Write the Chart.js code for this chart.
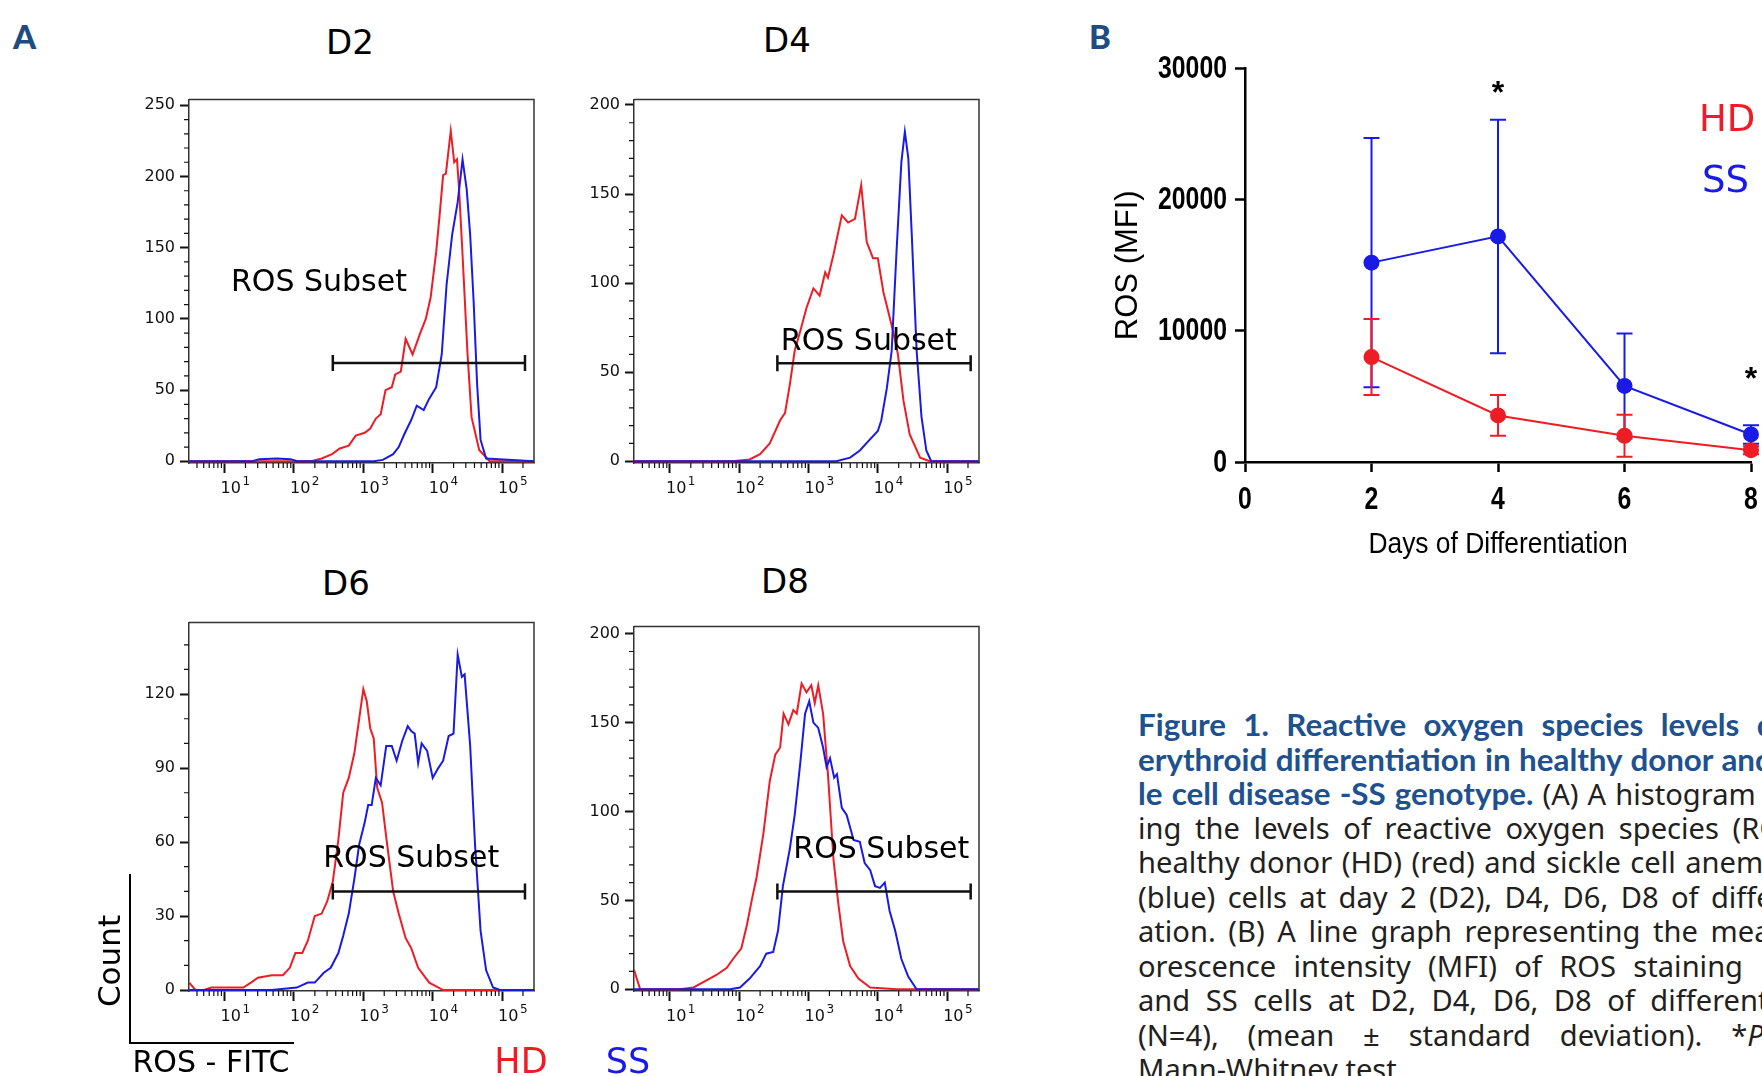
<!DOCTYPE html>
<html lang="en">
<head>
<meta charset="UTF-8">
<title>ROS levels during erythroid differentiation</title>
<script src="https://cdn.jsdelivr.net/npm/chart.js"></script>
<style>
  html, body { margin: 0; padding: 0; background: #fff; }
  body { width: 1762px; height: 1076px; overflow: hidden; position: relative; }
  canvas { position: absolute; }
  .c { position: absolute; transform: translate(-50%, -50%); line-height: 1; white-space: nowrap; }
  .title { font-family: 'DejaVu Sans'; font-size: 34px; color: #000; }
  .letter { position: absolute; font-family: Lato, 'Liberation Sans'; font-weight: 900; font-size: 33px; color: #1d4c82; line-height: 1; }
  .lg { position: absolute; font-family: 'DejaVu Sans'; line-height: 1; white-space: nowrap; }
  .red { color: #ee1c24; }
  .blue { color: #1a1ae6; }
  .axl { position: absolute; background: #000; }
  #caption { position: absolute; left: 1138px; top: 707px; width: 700px; font-family: 'Noto Sans'; font-size: 24px; color: #231f20; }
  #caption .ln { height: 34.5px; line-height: 34.5px; text-align: justify; text-align-last: justify; white-space: nowrap; }
  #caption .ln.last { text-align-last: left; }
  #caption b { font-family: Lato; font-weight: 700; color: #1e5190; }
</style>
</head>
<body>
  <div class="letter" style="left:13px; top:20px;">A</div>
  <div class="letter" style="left:1089px; top:20px;">B</div>

  <div class="c title" style="left:350px; top:42px;">D2</div>
  <div class="c title" style="left:787px; top:40px;">D4</div>
  <div class="c title" style="left:346px; top:583px;">D6</div>
  <div class="c title" style="left:785px; top:581px;">D8</div>

  <canvas id="d2" width="419" height="418" style="left:129px; top:85px;"></canvas>
  <canvas id="d4" width="419" height="418" style="left:574px; top:85px;"></canvas>
  <canvas id="d6" width="419" height="423" style="left:129px; top:608px;"></canvas>
  <canvas id="d8" width="419" height="419" style="left:574px; top:612px;"></canvas>
  <canvas id="rosLine" width="672" height="522" style="left:1090px; top:40px;"></canvas>

  <!-- small axis key under the histograms -->
  <div class="axl" style="left:129px; top:874px; width:2px; height:170px;"></div>
  <div class="axl" style="left:129px; top:1042px; width:165px; height:2px;"></div>
  <div class="c" style="left:109px; top:961px; font-family:'DejaVu Sans'; font-size:31px; transform:translate(-50%,-50%) rotate(-90deg);">Count</div>
  <div class="c" style="left:211px; top:1062px; font-family:'DejaVu Sans'; font-size:30px;">ROS - FITC</div>
  <div class="c red" style="left:521px; top:1061px; font-family:'DejaVu Sans'; font-size:35px;">HD</div>
  <div class="c blue" style="left:628px; top:1061px; font-family:'DejaVu Sans'; font-size:35px;">SS</div>

  <div class="lg red" style="left:1699px; top:100px; font-size:37px;">HD</div>
  <div class="lg blue" style="left:1702px; top:161px; font-size:37px;">SS</div>

  <div id="caption">
    <div class="ln"><b>Figure 1. Reactive oxygen species levels during</b></div>
    <div class="ln"><b>erythroid differentiation in healthy donor and sick-</b></div>
    <div class="ln"><b>le cell disease -SS genotype.</b> (A) A histogram show-</div>
    <div class="ln">ing the levels of reactive oxygen species (ROS) in</div>
    <div class="ln">healthy donor (HD) (red) and sickle cell anemia (SS)</div>
    <div class="ln">(blue) cells at day 2 (D2), D4, D6, D8 of differenti-</div>
    <div class="ln">ation. (B) A line graph representing the mean flu-</div>
    <div class="ln">orescence intensity (MFI) of ROS staining in HD</div>
    <div class="ln">and SS cells at D2, D4, D6, D8 of differentiation</div>
    <div class="ln">(N=4), (mean ± standard deviation). *<i>P</i>&lt;0.05,</div>
    <div class="ln last">Mann-Whitney test.</div>
  </div>

<script>
// ---- histogram data: x = log10(ROS-FITC intensity), y = cell count ----
const d2HdX = [0.49, 2.25, 2.40, 2.55, 2.66, 2.79, 2.89, 3.02, 3.10, 3.18, 3.25, 3.32, 3.41, 3.46, 3.54, 3.61, 3.71, 3.82, 3.90, 3.97, 4.05, 4.10, 4.15, 4.19, 4.26, 4.31, 4.35, 4.38, 4.43, 4.50, 4.56, 4.67, 4.82, 5.46];
const d2HdY = [0, 0, 2, 5, 9, 11, 18, 20, 23, 30, 33, 50, 52, 61, 63, 86, 75, 90, 100, 115, 147, 173, 201, 202, 232, 210, 212, 191, 145, 77, 31, 8, 0, 0];
const d2SsX = [0.49, 1.40, 1.50, 1.75, 1.95, 2.05, 3.15, 3.28, 3.43, 3.51, 3.59, 3.69, 3.77, 3.87, 3.95, 4.05, 4.13, 4.20, 4.28, 4.36, 4.43, 4.49, 4.54, 4.59, 4.64, 4.69, 4.77, 5.46];
const d2SsY = [0, 0, 1.5, 2, 1.5, 0, 0, 1, 5, 10, 19, 29, 39, 36, 44, 52, 75, 124, 159, 182, 212, 191, 159, 112, 54, 15, 2, 0];

const d4HdX = [0.48, 1.90, 2.15, 2.30, 2.44, 2.59, 2.66, 2.73, 2.80, 2.88, 2.97, 3.07, 3.16, 3.24, 3.28, 3.36, 3.48, 3.57, 3.67, 3.76, 3.84, 3.93, 4.00, 4.08, 4.15, 4.22, 4.29, 4.37, 4.46, 4.61, 4.75, 5.46];
const d4HdY = [0, 0, 1, 4, 10, 23, 27, 43, 62, 73, 86, 97, 93, 106, 103, 116, 138, 134, 136, 155, 123, 114, 114, 95, 84, 73, 60, 34, 15, 2, 0, 0];
const d4SsX = [0.48, 3.40, 3.60, 3.74, 3.88, 4.00, 4.05, 4.13, 4.20, 4.27, 4.34, 4.39, 4.44, 4.49, 4.56, 4.63, 4.70, 4.77, 5.46];
const d4SsY = [0, 0, 2, 6, 12, 17, 23, 41, 62, 118, 168, 185, 170, 127, 62, 25, 6, 0, 0];

const d6HdX = [0.49, 0.58, 0.70, 0.81, 1.27, 1.38, 1.48, 1.68, 1.84, 1.94, 2.02, 2.12, 2.20, 2.30, 2.40, 2.48, 2.56, 2.64, 2.71, 2.79, 2.87, 2.94, 3.00, 3.05, 3.10, 3.15, 3.20, 3.27, 3.33, 3.43, 3.51, 3.61, 3.69, 3.79, 3.95, 4.15, 5.46];
const d6HdY = [3, 0, 0, 1, 1, 3, 5, 6, 6, 9, 15, 15, 20, 30, 31, 36, 44, 61, 80, 86, 96, 110, 122, 117, 106, 102, 82, 76, 62, 40, 31, 21, 17, 9, 3, 0, 0];
const d6SsX = [0.49, 1.68, 2.04, 2.20, 2.30, 2.43, 2.53, 2.64, 2.71, 2.79, 2.87, 2.94, 3.02, 3.07, 3.12, 3.18, 3.25, 3.33, 3.41, 3.48, 3.56, 3.64, 3.69, 3.74, 3.79, 3.84, 3.92, 4.00, 4.08, 4.15, 4.23, 4.30, 4.36, 4.42, 4.46, 4.54, 4.61, 4.69, 4.77, 4.87, 4.97, 5.46];
const d6SsY = [0, 0, 1, 3, 3, 7, 9, 15, 22, 31, 45, 59, 68, 75, 75, 86, 83, 99, 99, 93, 101, 107, 105, 104, 92, 100, 97, 86, 90, 93, 103, 104, 136, 127, 128, 99, 59, 24, 8, 1, 0, 0];

const d8HdX = [0.48, 0.57, 1.14, 1.34, 1.48, 1.67, 1.82, 1.91, 2.03, 2.11, 2.18, 2.25, 2.35, 2.44, 2.52, 2.59, 2.64, 2.71, 2.78, 2.83, 2.90, 2.97, 3.04, 3.09, 3.14, 3.21, 3.28, 3.36, 3.43, 3.50, 3.60, 3.72, 3.89, 4.27, 5.46];
const d8HdY = [11, 0, 0, 1, 4, 8, 12, 17, 23, 36, 50, 63, 88, 117, 132, 136, 155, 149, 157, 155, 172, 167, 171, 161, 171, 155, 121, 73, 48, 27, 13, 6, 1, 0, 0];
const d8SsX = [0.48, 1.87, 2.01, 2.15, 2.30, 2.39, 2.49, 2.56, 2.63, 2.73, 2.80, 2.88, 2.95, 3.01, 3.07, 3.14, 3.21, 3.26, 3.31, 3.37, 3.41, 3.48, 3.55, 3.65, 3.74, 3.81, 3.89, 3.96, 4.03, 4.10, 4.17, 4.25, 4.34, 4.44, 4.56, 5.46];
const d8SsY = [0, 0, 1, 6, 13, 20, 21, 33, 58, 79, 98, 127, 155, 162, 150, 147, 136, 125, 130, 119, 121, 102, 98, 84, 83, 71, 67, 58, 57, 60, 44, 33, 17, 7, 0, 0];

// y axis of each histogram (D2, D4, D6, D8)
const yMaxes = [254, 203, 149, 204];
const yMins = [-1.2, -1, -0.4, -1];
const yMajors = [[0, 50, 100, 150, 200, 250], [0, 50, 100, 150, 200], [0, 30, 60, 90, 120], [0, 50, 100, 150, 200]];
const decades = [1, 2, 3, 4, 5];

// "ROS Subset" gate, in axis units
const gateFrom = [2.56, 2.55, 2.56, 2.55];
const gateTo = [5.33, 5.34, 5.33, 5.34];
const gateY = [69, 55, 40, 55];
const gateTextX = [2.36, 3.87, 3.69, 4.05];
const gateTextY = [125, 67, 53, 78];

// ---- line graph (B) ----
const days = [2, 4, 6, 8];
const hdMean = [8000, 3550, 2000, 900];
const hdSd = [2900, 1550, 1600, 300];
const ssMean = [15200, 17200, 5800, 2100];
const ssSd = [9500, 8900, 4000, 700];
const starDay = [4, 8];
const starY = [28500, 6700];

const HD_RED = '#ee1c24';
const SS_BLUE = '#1a1ae6';

Chart.defaults.font.family = "'DejaVu Sans'";
Chart.defaults.color = '#111';

const toPts = (xs, ys) => xs.map((x, i) => ({ x: x, y: ys[i] }));

function histDecor(i) {
  return {
    id: 'histDecor' + i,
    afterDraw(chart) {
      const { ctx, chartArea: a, scales: { x, y } } = chart;
      ctx.save();
      // top and right edge of the frame
      ctx.strokeStyle = '#333';
      ctx.lineWidth = 1.5;
      ctx.beginPath();
      ctx.moveTo(a.left, a.top);
      ctx.lineTo(a.right, a.top);
      ctx.lineTo(a.right, a.bottom);
      ctx.stroke();

      // minor ticks
      ctx.strokeStyle = '#111';
      ctx.lineWidth = 1.2;
      ctx.beginPath();
      for (let v = 10; v < yMaxes[i]; v += 10) {
        if (yMajors[i].includes(v)) continue;
        const py = y.getPixelForValue(v);
        ctx.moveTo(a.left - 5, py);
        ctx.lineTo(a.left, py);
      }
      for (let n = 0; n <= 5; n++) {
        for (let k = 2; k <= 9; k++) {
          const v = n + Math.log10(k);
          if (v <= x.min || v >= x.max) continue;
          const px = x.getPixelForValue(v);
          ctx.moveTo(px, a.bottom);
          ctx.lineTo(px, a.bottom + 5);
        }
      }
      ctx.stroke();

      // decade labels 10^n with a raised exponent
      ctx.fillStyle = '#111';
      ctx.textAlign = 'left';
      ctx.textBaseline = 'middle';
      decades.forEach(n => {
        const px = x.getPixelForValue(n) - 4;
        ctx.font = "16px 'DejaVu Sans'";
        ctx.fillText('10', px, a.bottom + 26);
        const w = ctx.measureText('10').width;
        ctx.font = "12px 'DejaVu Sans'";
        ctx.fillText(String(n), px + w + 1.5, a.bottom + 19);
      });

      // gate bar
      const gx1 = x.getPixelForValue(gateFrom[i]);
      const gx2 = x.getPixelForValue(gateTo[i]);
      const gy = y.getPixelForValue(gateY[i]);
      ctx.strokeStyle = '#111';
      ctx.lineWidth = 2.5;
      ctx.beginPath();
      ctx.moveTo(gx1, gy); ctx.lineTo(gx2, gy);
      ctx.moveTo(gx1, gy - 8); ctx.lineTo(gx1, gy + 8);
      ctx.moveTo(gx2, gy - 8); ctx.lineTo(gx2, gy + 8);
      ctx.stroke();

      ctx.fillStyle = '#000';
      ctx.font = "30px 'DejaVu Sans'";
      ctx.textAlign = 'center';
      ctx.textBaseline = 'middle';
      ctx.fillText('ROS Subset', x.getPixelForValue(gateTextX[i]), y.getPixelForValue(gateTextY[i]));
      ctx.restore();
    }
  };
}

function makeHist(id, i, hdX, hdY, ssX, ssY) {
  new Chart(document.getElementById(id), {
    type: 'line',
    data: {
      datasets: [
        { data: toPts(ssX, ssY), borderColor: SS_BLUE },
        { data: toPts(hdX, hdY), borderColor: HD_RED }
      ]
    },
    options: {
      responsive: false,
      animation: false,
      layout: { padding: { left: 0, top: 12, right: 14, bottom: 0 } },
      elements: { point: { radius: 0 }, line: { borderWidth: 2, tension: 0 } },
      plugins: { legend: { display: false }, tooltip: { enabled: false } },
      scales: {
        x: {
          type: 'linear',
          min: i % 2 === 0 ? 0.487 : 0.481,
          max: 5.46,
          afterFit: s => { s.height = 40; },
          afterBuildTicks: s => { s.ticks = decades.map(v => ({ value: v })); },
          ticks: { display: false },
          grid: { drawOnChartArea: false, tickLength: 10, tickWidth: 2, tickColor: '#111' },
          border: { color: '#333', width: 1.5 }
        },
        y: {
          min: yMins[i],
          max: yMaxes[i],
          afterFit: s => { s.width = 60; },
          afterBuildTicks: s => { s.ticks = yMajors[i].map(v => ({ value: v })); },
          ticks: { font: { size: 16 }, padding: 5 },
          grid: { drawOnChartArea: false, tickLength: 9, tickWidth: 2, tickColor: '#111' },
          border: { color: '#333', width: 1.5 }
        }
      }
    },
    plugins: [histDecor(i)]
  });
}

makeHist('d2', 0, d2HdX, d2HdY, d2SsX, d2SsY);
makeHist('d4', 1, d4HdX, d4HdY, d4SsX, d4SsY);
makeHist('d6', 2, d6HdX, d6HdY, d6SsX, d6SsY);
makeHist('d8', 3, d8HdX, d8HdY, d8SsX, d8SsY);

// horizontally squeezed text, standing in for the narrow Prism font
function narrowText(ctx, txt, x, y, align, font, sx) {
  ctx.save();
  ctx.font = font;
  ctx.translate(x, y);
  ctx.scale(sx, 1);
  ctx.textAlign = align;
  ctx.textBaseline = 'middle';
  ctx.fillText(txt, 0, 0);
  ctx.restore();
}

// error bars, axis labels and significance stars for the line graph
const lineDecor = {
  id: 'lineDecor',
  beforeDatasetsDraw(chart) {
    const { ctx, scales: { x, y } } = chart;
    const groups = [[ssMean, ssSd, SS_BLUE], [hdMean, hdSd, HD_RED]];
    ctx.save();
    ctx.lineWidth = 2;
    groups.forEach(([m, sd, col]) => {
      ctx.strokeStyle = col;
      ctx.beginPath();
      days.forEach((d, k) => {
        const px = x.getPixelForValue(d);
        const top = y.getPixelForValue(m[k] + sd[k]);
        const bot = y.getPixelForValue(m[k] - sd[k]);
        ctx.moveTo(px, top); ctx.lineTo(px, bot);
        ctx.moveTo(px - 8, top); ctx.lineTo(px + 8, top);
        ctx.moveTo(px - 8, bot); ctx.lineTo(px + 8, bot);
      });
      ctx.stroke();
    });
    ctx.restore();
  },
  afterDraw(chart) {
    const { ctx, chartArea: a, scales: { x, y } } = chart;
    ctx.save();
    ctx.fillStyle = '#000';
    const tickFont = "bold 31px 'Liberation Sans'";
    y.ticks.forEach(t => narrowText(ctx, String(t.value), a.left - 18, y.getPixelForValue(t.value) + 1, 'right', tickFont, 0.8));
    x.ticks.forEach(t => narrowText(ctx, String(t.value), x.getPixelForValue(t.value), a.bottom + 38, 'center', tickFont, 0.8));
    narrowText(ctx, 'Days of Differentiation', (a.left + a.right) / 2, a.bottom + 83, 'center', "30px 'Liberation Sans'", 0.88);

    ctx.font = "bold 32px 'Liberation Sans'";
    ctx.textAlign = 'center';
    ctx.textBaseline = 'middle';
    starDay.forEach((d, k) => ctx.fillText('*', x.getPixelForValue(d), y.getPixelForValue(starY[k]) + 6));
    ctx.restore();
  }
};

new Chart(document.getElementById('rosLine'), {
  type: 'line',
  data: {
    datasets: [
      { label: 'SS', data: toPts(days, ssMean), borderColor: SS_BLUE, backgroundColor: SS_BLUE, pointBackgroundColor: SS_BLUE },
      { label: 'HD', data: toPts(days, hdMean), borderColor: HD_RED, backgroundColor: HD_RED, pointBackgroundColor: HD_RED }
    ]
  },
  options: {
    responsive: false,
    animation: false,
    layout: { padding: { left: 0, top: 28.5, right: 11, bottom: 0 } },
    elements: {
      point: { radius: 8, borderWidth: 0 },
      line: { borderWidth: 2, tension: 0 }
    },
    datasets: { line: { clip: false } },
    plugins: { legend: { display: false }, tooltip: { enabled: false } },
    scales: {
      x: {
        type: 'linear', min: 0, max: 8,
        afterFit: s => { s.height = 100; },
        ticks: { stepSize: 2, display: false },
        grid: { drawOnChartArea: false, tickLength: 10, tickWidth: 2.5, tickColor: '#000' },
        border: { color: '#000', width: 2.5 }
      },
      y: {
        min: 0, max: 30000,
        afterFit: s => { s.width = 155; },
        ticks: { stepSize: 10000, display: false },
        grid: { drawOnChartArea: false, tickLength: 10, tickWidth: 2.5, tickColor: '#000' },
        border: { color: '#000', width: 2.5 },
        title: { display: true, text: 'ROS (MFI)', color: '#000',
                 font: { family: "'Liberation Sans'", size: 31 }, padding: { top: 20, bottom: 0 } }
      }
    }
  },
  plugins: [lineDecor]
});

// size the caption fonts so the lines fill the column like the printed legend
(function fitCaption() {
  const m = document.createElement('canvas').getContext('2d');
  m.font = "700 25px Lato";
  const boldSize = 25 * 614 / m.measureText('erythroid differentiation in healthy donor an').width;
  m.font = "400 25px 'Noto Sans'";
  const bodySize = 25 * 612 / m.measureText('healthy donor (HD) (red) and sickle cell anem').width;
  const cap = document.getElementById('caption');
  cap.style.fontSize = bodySize.toFixed(2) + 'px';
  cap.querySelectorAll('b').forEach(b => { b.style.fontSize = boldSize.toFixed(2) + 'px'; });
  m.font = '700 ' + boldSize + 'px Lato';
  const colW = m.measureText('erythroid differentiation in healthy donor and sick-').width + 4;
  cap.style.width = Math.round(colW) + 'px';
})();
</script>
</body>
</html>
